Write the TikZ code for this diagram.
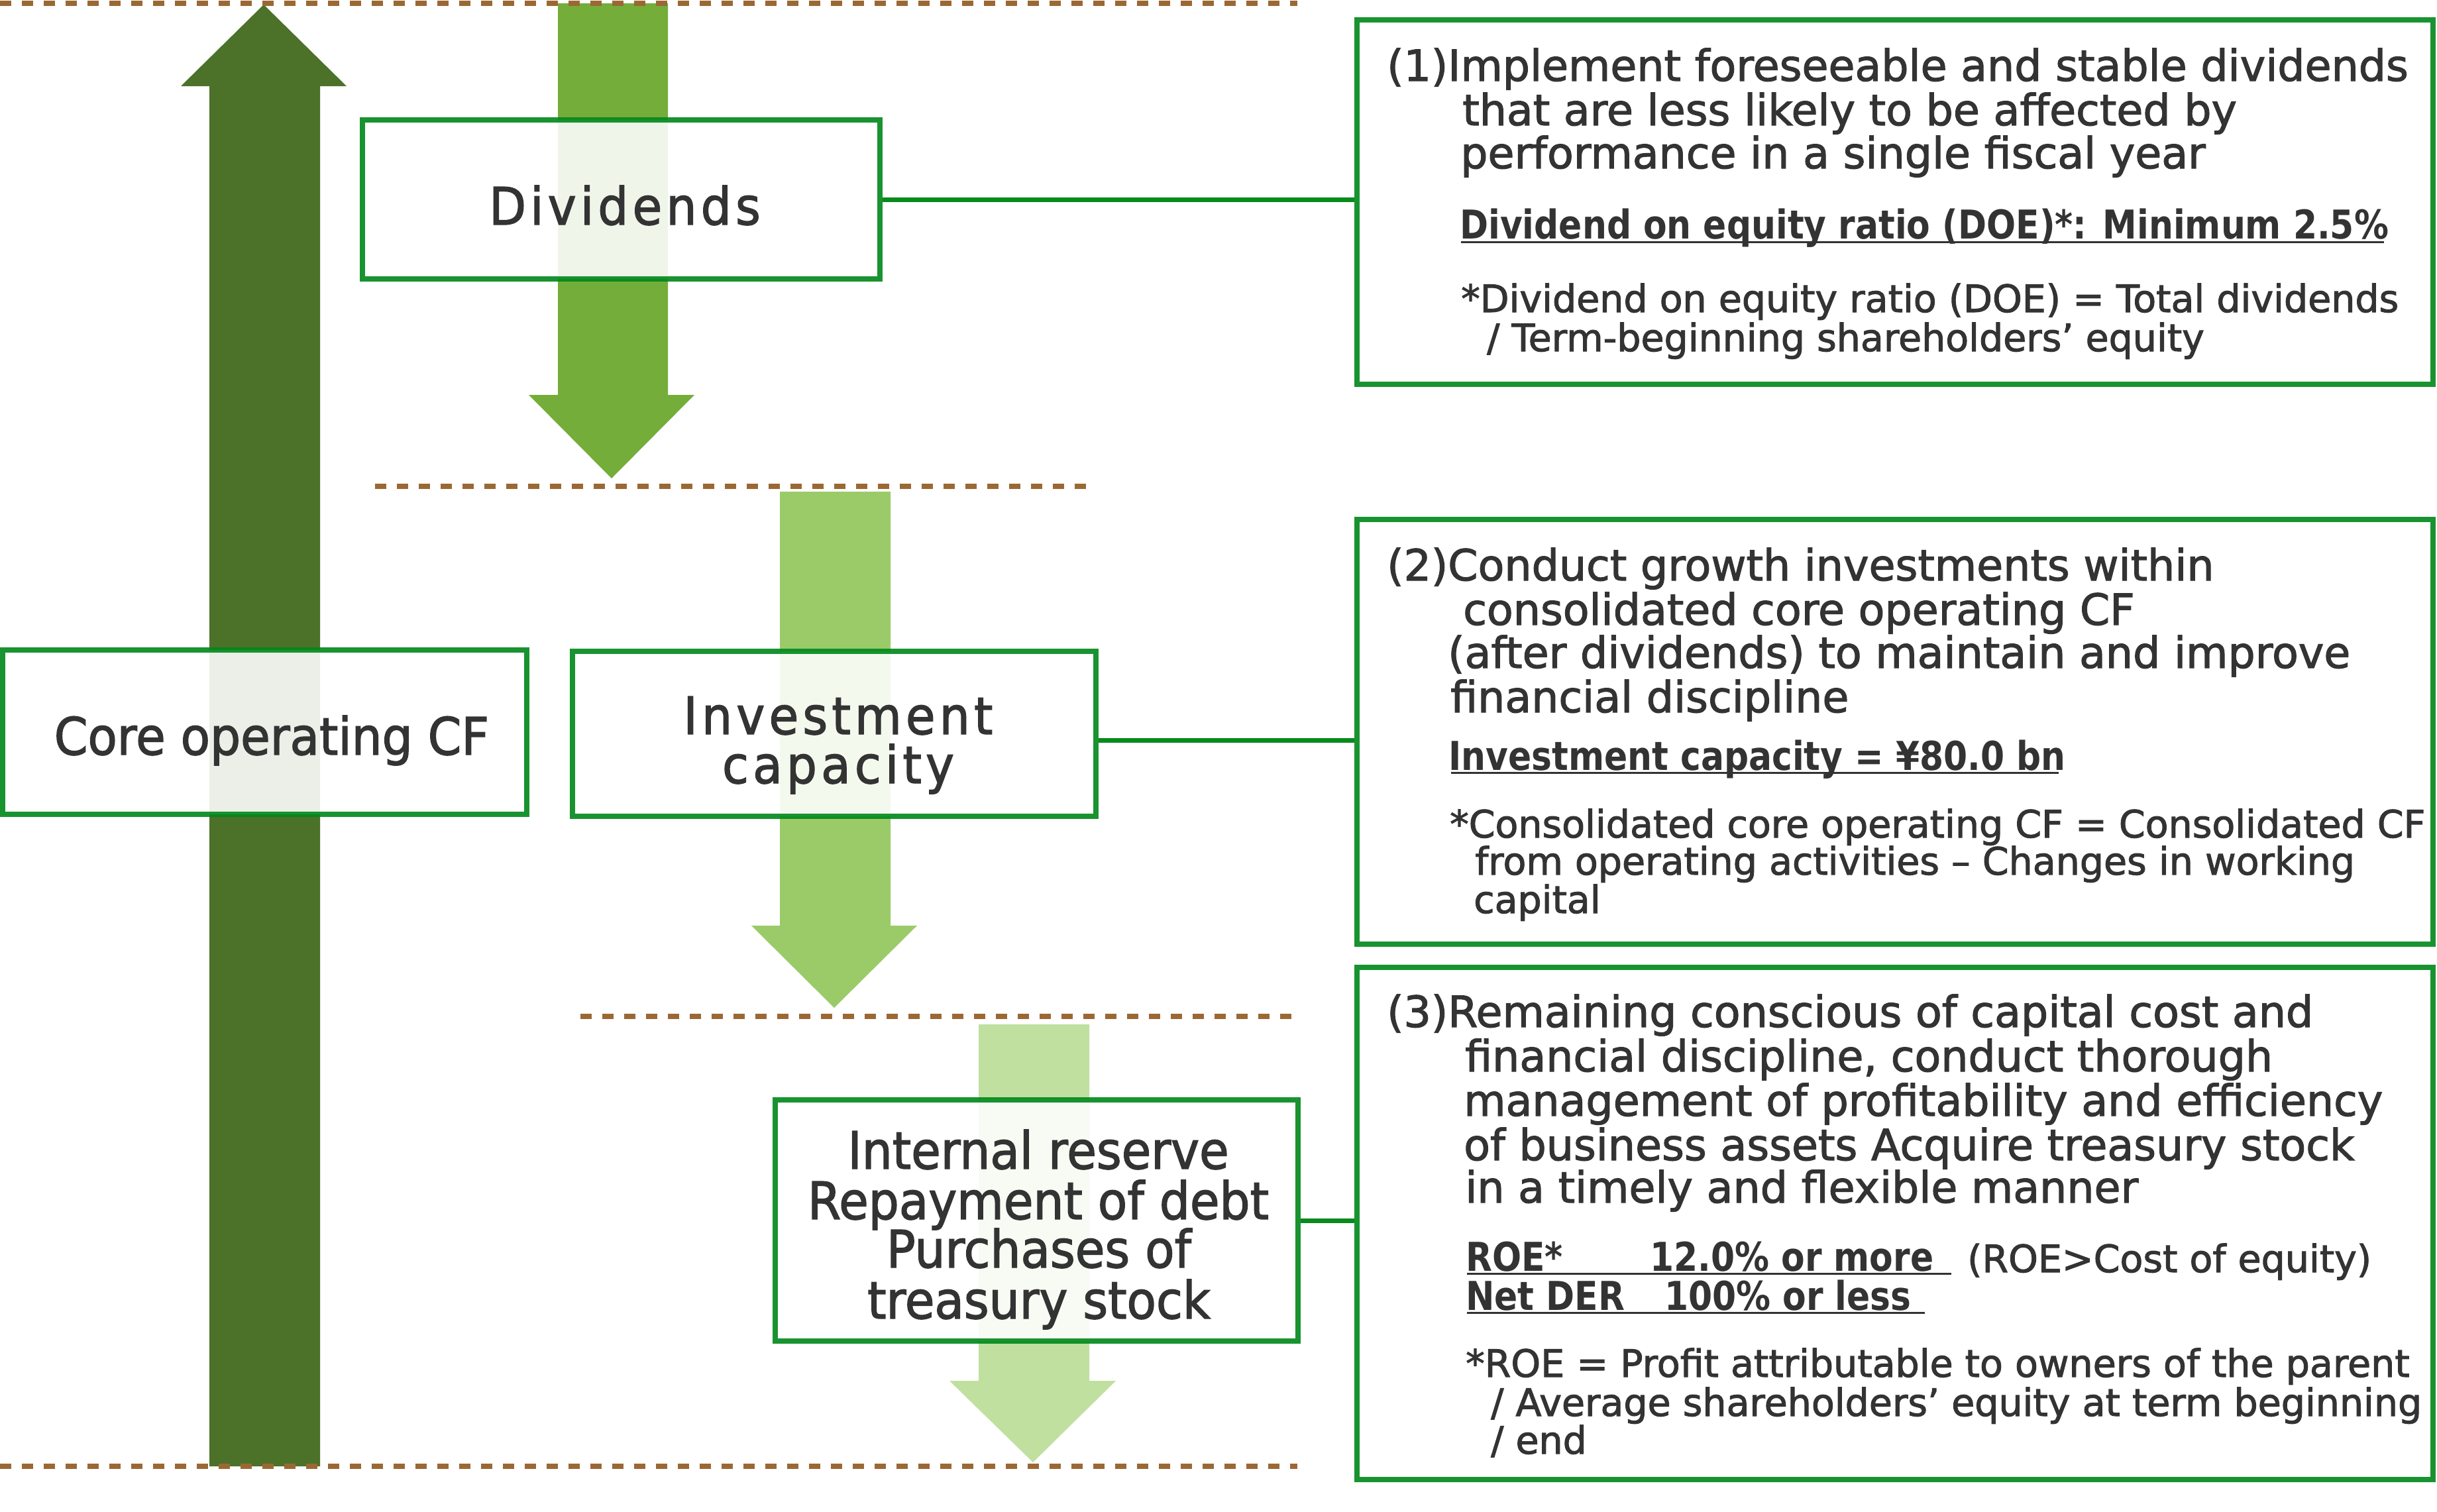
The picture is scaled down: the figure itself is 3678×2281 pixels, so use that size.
\documentclass[tikz,border=0pt]{standalone}
\usepackage{fontspec}
\setmainfont{DejaVu Sans}
\newfontfamily\bodyfont{DejaVu Sans}[FakeBold=1.8]
\newfontfamily\boldfont{DejaVu Sans}[FakeStretch=0.865]
\newfontfamily\labelfont{DejaVu Sans}[FakeStretch=0.93,FakeBold=1.8]
\newfontfamily\spacedfont{DejaVu Sans}[FakeStretch=0.93,LetterSpace=8,FakeBold=1.8]
\definecolor{txt}{RGB}{51,51,51}
\definecolor{arrowA}{RGB}{76,113,41}
\definecolor{arrowB}{RGB}{116,173,58}
\definecolor{arrowC}{RGB}{155,203,105}
\definecolor{arrowD}{RGB}{192,224,160}
\definecolor{dotbrown}{RGB}{155,104,52}
\definecolor{boxgreen}{RGB}{0,136,26}
\definecolor{linkgreen}{RGB}{8,138,28}
\tikzset{
  lbox/.style={rectangle, draw=boxgreen, draw opacity=0.9, line width=8pt, fill=white, fill opacity=0.89, inner sep=0pt},
  rbox/.style={rectangle, draw=boxgreen, draw opacity=0.9, line width=8pt, inner sep=0pt},
  sepline/.style={draw=dotbrown, line width=8pt, dash pattern=on 16.5pt off 16.5pt},
  link/.style={draw=linkgreen, line width=7pt},
  uline/.style={draw=txt, line width=3pt},
  bodytxt/.style={anchor=base west, inner sep=0pt, text=txt, font={\bodyfont\fontsize{65}{66}\selectfont}},
  foottxt/.style={anchor=base west, inner sep=0pt, text=txt, font={\bodyfont\fontsize{57}{58}\selectfont}},
  boldtxt/.style={anchor=base west, inner sep=0pt, text=txt, font={\boldfont\bfseries\fontsize{60}{60}\selectfont}},
  labeltxt/.style={anchor=base, inner sep=0pt, text=txt, font={\labelfont\fontsize{78}{78}\selectfont}},
  reservetxt/.style={anchor=base, inner sep=0pt, text=txt, font={\labelfont\fontsize{78}{78}\selectfont}},
  spacedtxt/.style={anchor=base, inner sep=0pt, text=txt, font={\spacedfont\fontsize{78}{78}\selectfont}}
}
\begin{document}
\begin{tikzpicture}[x=1pt,y=-1pt]
\useasboundingbox (0,0) rectangle (3678,2281);
\fill[white] (0,0) rectangle (3678,2281);

% flow arrows
\fill[arrowA] (316,2213) -- (316,130) -- (273,130) -- (398,7) -- (523,130) -- (483,130) -- (483,2213) -- cycle;
\fill[arrowB] (842,5) -- (842,596) -- (798,596) -- (923,722) -- (1048,596) -- (1008,596) -- (1008,5) -- cycle;
\fill[arrowC] (1177,742) -- (1177,1397) -- (1134,1397) -- (1259,1521) -- (1384,1397) -- (1344,1397) -- (1344,742) -- cycle;
\fill[arrowD] (1477,1546) -- (1477,2084) -- (1433,2084) -- (1559,2207) -- (1684,2084) -- (1644,2084) -- (1644,1546) -- cycle;

% dotted separators
\draw[sepline] (0,5) -- (1958,5);
\draw[sepline] (566,734) -- (1654,734);
\draw[sepline] (876,1534) -- (1958,1534);
\draw[sepline] (0,2213) -- (1958,2213);

% left boxes
\node[lbox, minimum width=781, minimum height=240] (div) at (937.5,301) {};
\node[lbox, minimum width=791, minimum height=248] (core) at (399.5,1105) {};
\node[lbox, minimum width=790, minimum height=249] (inv) at (1259,1107.5) {};
\node[lbox, minimum width=789, minimum height=364] (intr) at (1564.5,1842) {};

\node[spacedtxt] (divt) at (943,339) {Dividends};
\node[labeltxt] (coret) at (410,1139) {Core operating CF};
\node[spacedtxt] (invt1) at (1265,1108) {Investment};
\node[spacedtxt] (invt2) at (1265,1182) {capacity};
\node[reservetxt] (intrt1) at (1567,1764) {Internal reserve};
\node[reservetxt] (intrt2) at (1567,1840) {Repayment of debt};
\node[reservetxt] (intrt3) at (1568,1913) {Purchases of};
\node[reservetxt] (intrt4) at (1568,1990) {treasury stock};

% right boxes
\node[rbox, minimum width=1624, minimum height=550] (box1) at (2860,305) {};
\node[rbox, minimum width=1624, minimum height=641] (box2) at (2860,1104.5) {};
\node[rbox, minimum width=1624, minimum height=773] (box3) at (2860,1846) {};

% connectors
\draw[link] (div.east) -- (div.east -| box1.west);
\coordinate (invc) at ([yshift=-10pt]inv.east);
\draw[link] (invc) -- (invc -| box2.west);
\draw[link] (intr.east) -- (intr.east -| box3.west);

% box 1 text
\node[bodytxt] (a1) at (2093,122) {(1)Implement foreseeable and stable dividends};
\node[bodytxt] (a2) at (2207,189) {that are less likely to be affected by};
\node[bodytxt] (a3) at (2204,254) {performance in a single fiscal year};
\node[boldtxt] (a4) at (2203,360) {Dividend on equity ratio (DOE)*: Minimum 2.5\%};
\draw[uline] (2205,365) -- (3598,365);
\node[foottxt] (a5) at (2205,471) {*Dividend on equity ratio (DOE) = Total dividends};
\node[foottxt] (a6) at (2244,530) {/ Term-beginning shareholders’ equity};

% box 2 text
\node[bodytxt] (b1) at (2093,876) {(2)Conduct growth investments within};
\node[bodytxt] (b2) at (2208,943) {consolidated core operating CF};
\node[bodytxt] (b3) at (2185,1008) {(after dividends) to maintain and improve};
\node[bodytxt] (b4) at (2189,1075) {financial discipline};
\node[boldtxt] (b5) at (2186,1162) {Investment capacity = ¥80.0 bn};
\draw[uline] (2190,1166) -- (3107,1166);
\node[foottxt] (b6) at (2188,1264) {*Consolidated core operating CF = Consolidated CF};
\node[foottxt] (b7) at (2226,1320) {from operating activities – Changes in working};
\node[foottxt] (b8) at (2224,1378) {capital};

% box 3 text
\node[bodytxt] (c1) at (2093,1550) {(3)Remaining conscious of capital cost and};
\node[bodytxt] (c2) at (2211,1617) {financial discipline, conduct thorough};
\node[bodytxt] (c3) at (2209,1684) {management of profitability and efficiency};
\node[bodytxt] (c4) at (2209,1751) {of business assets Acquire treasury stock};
\node[bodytxt] (c5) at (2211,1815) {in a timely and flexible manner};
\node[boldtxt] (c6) at (2212,1918) {ROE*};
\node[boldtxt] (c7) at (2490,1918) {12.0\% or more};
\draw[uline] (2214,1922) -- (2945,1922);
\node[foottxt] (c8) at (2969,1920) {(ROE>Cost of equity)};
\node[boldtxt] (c9) at (2212,1977) {Net DER};
\node[boldtxt] (c10) at (2512,1977) {100\% or less};
\draw[uline] (2214,1981) -- (2905,1981);
\node[foottxt] (c11) at (2212,2078) {*ROE = Profit attributable to owners of the parent};
\node[foottxt] (c12) at (2250,2137) {/ Average shareholders’ equity at term beginning};
\node[foottxt] (c13) at (2250,2194) {/ end};
\end{tikzpicture}
\end{document}
